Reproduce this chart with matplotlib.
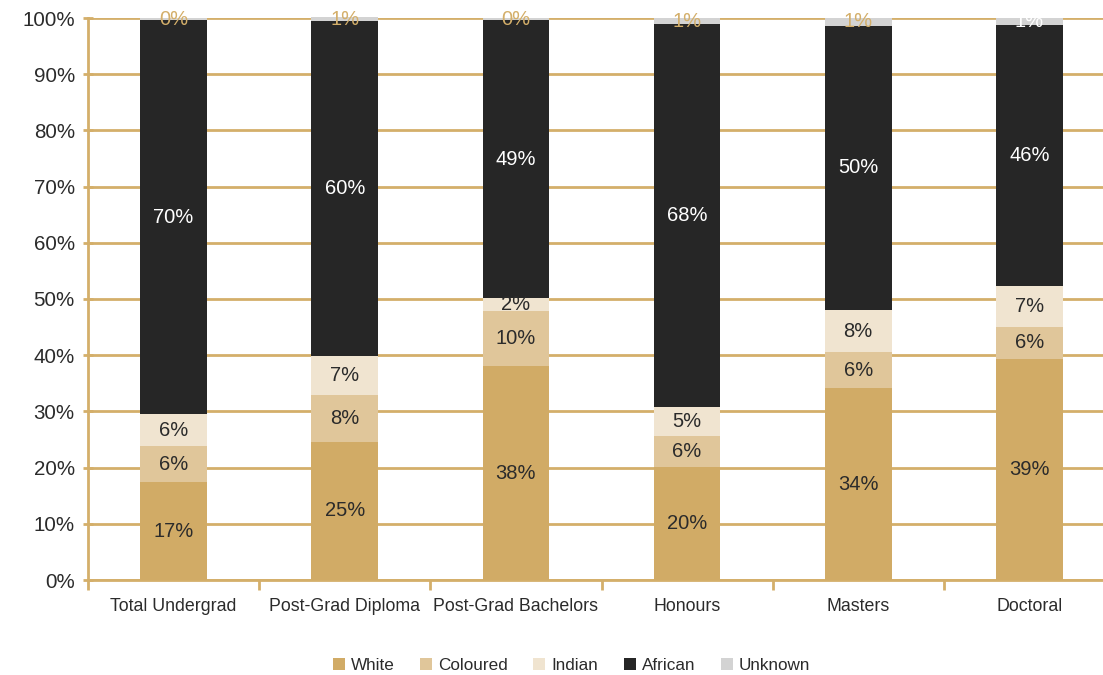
import numpy as np
import matplotlib
matplotlib.use('Agg')
import matplotlib.pyplot as plt

plt.rcParams['font.family'] = ['Liberation Sans', 'DejaVu Sans']

# Datos
categorias = ['Total Undergrad', 'Post-Grad Diploma', 'Post-Grad Bachelors',
              'Honours', 'Masters', 'Doctoral']
grupos = ['White', 'Coloured', 'Indian', 'African', 'Unknown']
white = [17.4, 24.6, 38.0, 20.1, 34.1, 39.4]
coloured = [6.4, 8.3, 9.8, 5.6, 6.4, 5.6]
indian = [5.7, 7.0, 2.4, 5.1, 7.6, 7.4]
african = [70.1, 59.6, 49.4, 68.1, 50.5, 46.3]
unknown = [0.4, 0.6, 0.4, 1.1, 1.4, 1.3]

series = [white, coloured, indian, african, unknown]
colores = ['#d1ab66', '#e0c69a', '#f0e4d0', '#262626', '#d3d3d3']
oro = '#d4af6a'
texto = '#2b2b2b'
# color de las etiquetas por serie (la ultima de Unknown sale en blanco)
color_etiqueta = [[texto] * 6, [texto] * 6, [texto] * 6, ['white'] * 6,
                  [oro] * 5 + ['white']]

fig = plt.figure(figsize=(11.03, 6.75), dpi=100)
ax = fig.add_axes([88 / 1103, 95 / 675, 1027 / 1103, 562 / 675])

x = np.arange(len(categorias))
base = np.zeros(len(categorias))
for i, (vals, col) in enumerate(zip(series, colores)):
    vals = np.array(vals)
    ax.bar(x, vals, 0.39, bottom=base, color=col, label=grupos[i], zorder=3,
           clip_on=False)
    for j, v in enumerate(vals):
        ax.text(x[j], base[j] + v / 2, '%d%%' % round(v), ha='center', va='center',
                fontsize=14.5, color=color_etiqueta[i][j], zorder=4)
    base += vals

ax.set_xlim(-0.5, 5.5)
ax.set_ylim(0, 100)
ax.set_yticks(np.arange(0, 101, 10))
ax.set_yticklabels(['%d%%' % t for t in range(0, 101, 10)], fontsize=14.8, color=texto)
ax.yaxis.grid(True, color=oro, linewidth=2, zorder=0)
ax.set_xticks(x)
ax.set_xticklabels(categorias, fontsize=12.8, color=texto)
ax.set_xticks(np.arange(-0.5, 5.6, 1), minor=True)
ax.tick_params(axis='x', which='major', length=0, pad=13)
ax.tick_params(axis='x', which='minor', length=7, width=2, color=oro, direction='out')
ax.tick_params(axis='y', length=7, width=2, color=oro, direction='inout', pad=6)

for lado in ['top', 'right']:
    ax.spines[lado].set_visible(False)
for lado in ['left', 'bottom']:
    ax.spines[lado].set_color(oro)
    ax.spines[lado].set_linewidth(2)

fig.legend(loc='lower center', ncol=5, frameon=False, fontsize=12.3,
           bbox_to_anchor=(0.518, -0.02), handlelength=0.7, handleheight=0.7,
           columnspacing=1.5, handletextpad=0.35, labelcolor=texto)

fig.savefig('out.png', dpi=100)
